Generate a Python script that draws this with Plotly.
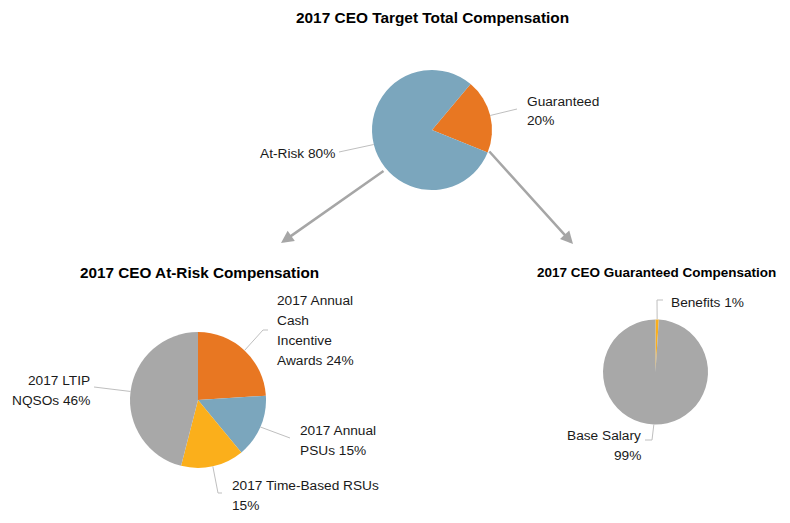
import math
import plotly.graph_objects as go

W, H = 790, 523

# ---------------- data ----------------
top_labels = ["Guaranteed", "At-Risk"]
top_values = [20, 80]

risk_labels = ["2017 Annual Cash Incentive Awards", "2017 Annual PSUs",
               "2017 Time-Based RSUs", "2017 LTIP NQSOs"]
risk_values = [24, 15, 15, 46]

guar_labels = ["Benefits", "Base Salary"]
guar_values = [1, 99]

titles = ["2017 CEO Target Total Compensation",
          "2017 CEO At-Risk Compensation",
          "2017 CEO Guaranteed Compensation"]

# ---------------- styles / layout ----------------
ORANGE = "#E87722"
BLUE = "#7BA6BD"
YELLOW = "#FBAF1B"
GRAY = "#A8A8A8"
TEXT = "#1a1a1a"
FONT = "Liberation Sans, Arial, sans-serif"
LEADER = "#BFBFBF"
LABEL_SIZE = 13.7

pies = [
    dict(labels=top_labels, values=top_values, colors=[ORANGE, BLUE],
         cx=432, cy=130, r=60, rot=40,
         lab=[dict(lines=["{l}", "{p}%"], x=525, y=101, anchor="left", path=[(517, 109)]),
              dict(lines=["{l} {p}%"], x=337, y=153, anchor="right", path=[(339, 152)])]),
    dict(labels=risk_labels, values=risk_values, colors=[ORANGE, BLUE, YELLOW, GRAY],
         cx=198, cy=400, r=68, rot=0,
         lab=[dict(lines=["2017 Annual", "Cash", "Incentive", "Awards {p}%"], x=275, y=300,
                   anchor="left", path=[(263, 330), (268, 330)]),
              dict(lines=["2017 Annual", "PSUs {p}%"], x=298, y=430, anchor="left", path=[(290, 438)]),
              dict(lines=["{l}", "{p}%"], x=230, y=485, anchor="left", path=[(218, 493), (222, 493)]),
              dict(lines=["2017 LTIP", "NQSOs {p}%"], x=92, y=380, anchor="right", path=[(94, 387)])]),
    dict(labels=guar_labels, values=guar_values, colors=[YELLOW, GRAY],
         cx=655.5, cy=372, r=52.5, rot=0,
         lab=[dict(lines=["{l} {p}%"], x=669, y=302, anchor="left", path=[(657, 300), (663, 300)]),
              dict(lines=["{l}", "{p}%"], x=643, y=435, anchor="right", path=[(652, 440), (645, 440)])]),
]
title_pos = [(432, 17), (199, 272), (656, 272)]
title_sizes = [15.4, 15.3, 13.5]


def px(x):
    return x / W


def py(y):
    return 1 - y / H


fig = go.Figure()
annotations = []
shapes = []

for p in pies:
    cx, cy, r = p["cx"], p["cy"], p["r"]
    fig.add_trace(go.Pie(
        labels=p["labels"], values=p["values"], sort=False, direction="clockwise",
        rotation=p["rot"], textinfo="none", hoverinfo="label+percent",
        marker=dict(colors=p["colors"], line=dict(width=0)),
        domain=dict(x=[px(cx - r), px(cx + r)], y=[py(cy + r), py(cy - r)]),
        showlegend=False,
    ))
    total = sum(p["values"])
    acc = 0
    for lab, val, spec in zip(p["labels"], p["values"], p["lab"]):
        mid = math.radians(p["rot"] + (acc + val / 2) / total * 360)
        acc += val
        ex, ey = cx + r * math.sin(mid), cy - r * math.cos(mid)
        pts = [(ex, ey)] + spec["path"]
        d = "M " + " L ".join(f"{px(a)},{py(b)}" for a, b in pts)
        shapes.append(dict(type="path", path=d, xref="paper", yref="paper",
                           line=dict(color=LEADER, width=1)))
        pct = round(val / total * 100)
        for i, line in enumerate(spec["lines"]):
            annotations.append(dict(
                text=line.format(l=lab, p=pct), x=px(spec["x"]), y=py(spec["y"] + 20 * i),
                xref="paper", yref="paper", xanchor=spec["anchor"], yanchor="middle",
                showarrow=False, font=dict(family=FONT, size=LABEL_SIZE, color=TEXT)))

for t, (tx, ty), ts in zip(titles, title_pos, title_sizes):
    annotations.append(dict(text=f"<b>{t}</b>", x=px(tx), y=py(ty), xref="paper", yref="paper",
                            xanchor="center", yanchor="middle", showarrow=False,
                            font=dict(family=FONT, size=ts, color="#000000")))

# connector arrows from the top pie to the two breakdown pies
arrows = [((385, 170), (281, 243)), ((488, 150), (573, 244))]
for (x0, y0), (x1, y1) in arrows:
    annotations.append(dict(x=px(x1), y=py(y1), xref="paper", yref="paper",
                            ax=x0 - x1, ay=y0 - y1, axref="pixel", ayref="pixel",
                            showarrow=True, arrowhead=2, arrowsize=1, arrowwidth=2.5,
                            arrowcolor="#A6A6A6", text=""))

fig.update_layout(
    width=W, height=H, margin=dict(l=0, r=0, t=0, b=0),
    paper_bgcolor="white", plot_bgcolor="white",
    annotations=annotations, shapes=shapes,
)

fig.write_html("out.html", config={"displayModeBar": False},
               post_script="document.body.style.margin='0';")
